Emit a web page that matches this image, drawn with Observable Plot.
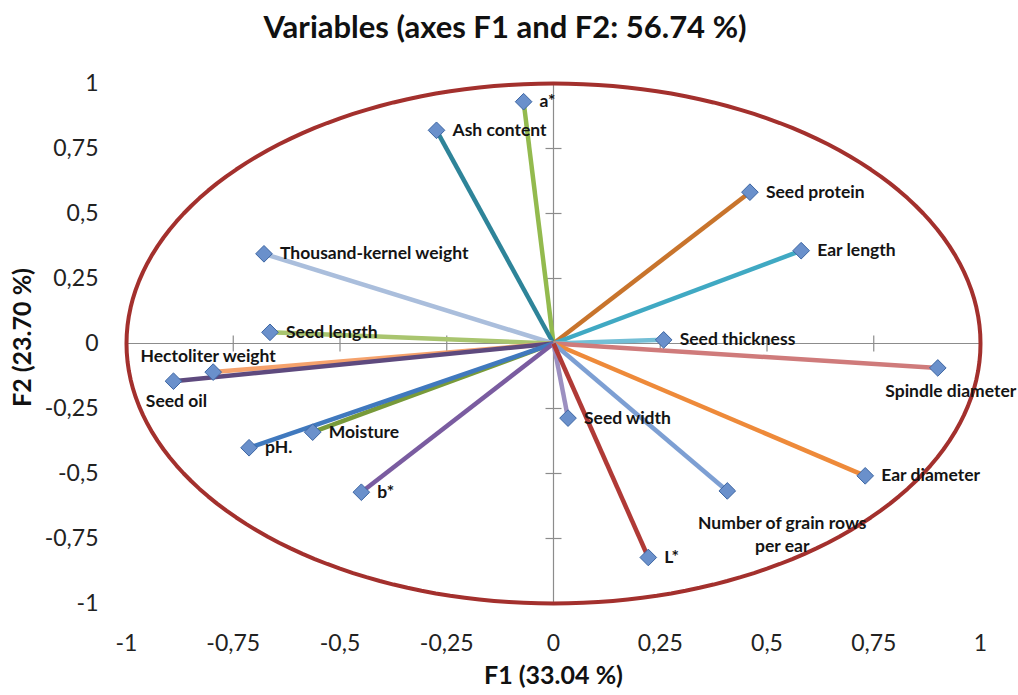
<!DOCTYPE html>
<html><head><meta charset="utf-8">
<script src="https://cdn.jsdelivr.net/npm/d3@7"></script>
<script src="https://cdn.jsdelivr.net/npm/@observablehq/plot@0.6"></script>
<style>
body{margin:0;background:#fff;font-family:Lato,"Open Sans",sans-serif;}
#title{height:50px;line-height:52px;text-align:center;font-weight:700;font-size:31px;color:#111;width:1010px;}
</style></head><body>
<div id="title">Variables (axes F1 and F2: 56.74 %)</div>
<div id="chart"></div>
<script>
// ---- data ----
const variables = ["a*","Ash content","Thousand-kernel weight","Seed length","Seed protein","Ear length","Seed thickness","Hectoliter weight","Seed oil","Moisture","pH.","b*","Spindle diameter","Seed width","Ear diameter","Number of grain rows\nper ear","L*"];
const f1 = [-0.07,-0.274,-0.678,-0.664,0.46,0.58,0.258,-0.797,-0.89,-0.564,-0.713,-0.45,0.90,0.034,0.73,0.407,0.222];
const f2 = [0.93,0.82,0.345,0.043,0.582,0.357,0.014,-0.11,-0.145,-0.341,-0.401,-0.572,-0.094,-0.287,-0.509,-0.567,-0.823];
const lineColors = ["#93BA4E","#2E8499","#AABEDC","#A9C56F","#C8742C","#40A9C3","#74BFD6","#F5A26C","#5E4A7E","#789A3A","#4079BE","#7A5CA0","#CF7B7B","#9C8FC0","#EE8A3A","#7D9FD3","#B03A36"];
const tickValues = [-1,-0.75,-0.5,-0.25,0,0.25,0.5,0.75,1];
const crossTicks = [-1,-0.75,-0.5,-0.25,0.25,0.5,0.75,1];
const xTitle = "F1 (33.04 %)";
const yTitle = "F2 (23.70 %)";

const data = variables.map((name,i)=>({name, f1:f1[i], f2:f2[i], color:lineColors[i]}));

// label placement (style)
const placement = {
  "Hectoliter weight": {dx:-5, dy:-17, anchor:"middle"},
  "Seed oil": {dx:3, dy:19, anchor:"middle"},
  "Spindle diameter": {dx:13, dy:22, anchor:"middle"},
  "Number of grain rows\nper ear": {dx:55, dy:42, anchor:"middle"}
};
const rightLabels = data.filter(d=>!placement[d.name]);
const otherLabels = data.filter(d=>placement[d.name]);

// unit circle (correlation circle)
const circle = d3.range(0, 361, 2).map(a=>({cx:Math.cos(a*Math.PI/180), cy:Math.sin(a*Math.PI/180)}));

const crossSymbol = {draw(ctx, size){ const h=Math.sqrt(size/Math.PI); ctx.moveTo(0,-h); ctx.lineTo(0,h); }};
const hCrossSymbol = {draw(ctx, size){ const h=Math.sqrt(size/Math.PI); ctx.moveTo(-h,0); ctx.lineTo(h,0); }};
const fmt = d => String(d).replace(".", ",");

const labelFont = {fontSize:17.5, fontWeight:700, fill:"#141414"};

const chart = Plot.plot({
  width:1018, height:645,
  marginLeft:126, marginRight:38, marginTop:33, marginBottom:92,
  style:{fontFamily:"Lato, 'Open Sans', sans-serif", background:"#fff", overflow:"visible"},
  x:{domain:[-1,1]},
  y:{domain:[-1,1]},
  color:{type:"identity"},
  marks:[
    Plot.ruleY([0], {x1:-1, x2:1, stroke:"#8c8c8c", strokeWidth:1.2}),
    Plot.ruleX([0], {y1:-1, y2:1, stroke:"#8c8c8c", strokeWidth:1.2}),
    Plot.dot(crossTicks, {x:d=>d, y:0, symbol:crossSymbol, r:8, stroke:"#8c8c8c", strokeWidth:1.2, fill:"none"}),
    Plot.dot(crossTicks, {x:0, y:d=>d, symbol:hCrossSymbol, r:8, stroke:"#8c8c8c", strokeWidth:1.2, fill:"none"}),
    Plot.axisX({ticks:tickValues, tickFormat:fmt, tickSize:0, tickPadding:31, fontSize:23, label:null, fill:"#222"}),
    Plot.axisY({ticks:tickValues, tickFormat:fmt, tickSize:0, tickPadding:28, fontSize:23, label:null, fill:"#222"}),
    Plot.line(circle, {x:"cx", y:"cy", stroke:"#A3302D", strokeWidth:4, curve:"linear"}),
    Plot.link(data, {x1:0, y1:0, x2:"f1", y2:"f2", stroke:"color", strokeWidth:4.5}),
    Plot.dot(data, {x:"f1", y:"f2", symbol:"diamond2", r:7.5, fill:"#6A90CB", stroke:"#3D66A3", strokeWidth:1}),
    Plot.text(rightLabels, {x:"f1", y:"f2", text:"name", dx:16, textAnchor:"start", ...labelFont}),
    ...otherLabels.map(d=>Plot.text([d], {x:"f1", y:"f2", text:"name", dx:placement[d.name].dx, dy:placement[d.name].dy, textAnchor:placement[d.name].anchor, lineHeight:1.3, ...labelFont})),
    Plot.text([xTitle], {frameAnchor:"bottom", dy:72, text:d=>d, textAnchor:"middle", lineAnchor:"middle", fontSize:25, fontWeight:700, fill:"#111"}),
    Plot.text([yTitle], {frameAnchor:"left", dx:-104, dy:-6, rotate:-90, text:d=>d, textAnchor:"middle", lineAnchor:"middle", fontSize:25, fontWeight:700, fill:"#111"})
  ]
});
document.getElementById("chart").appendChild(chart);
</script>
</body></html>
